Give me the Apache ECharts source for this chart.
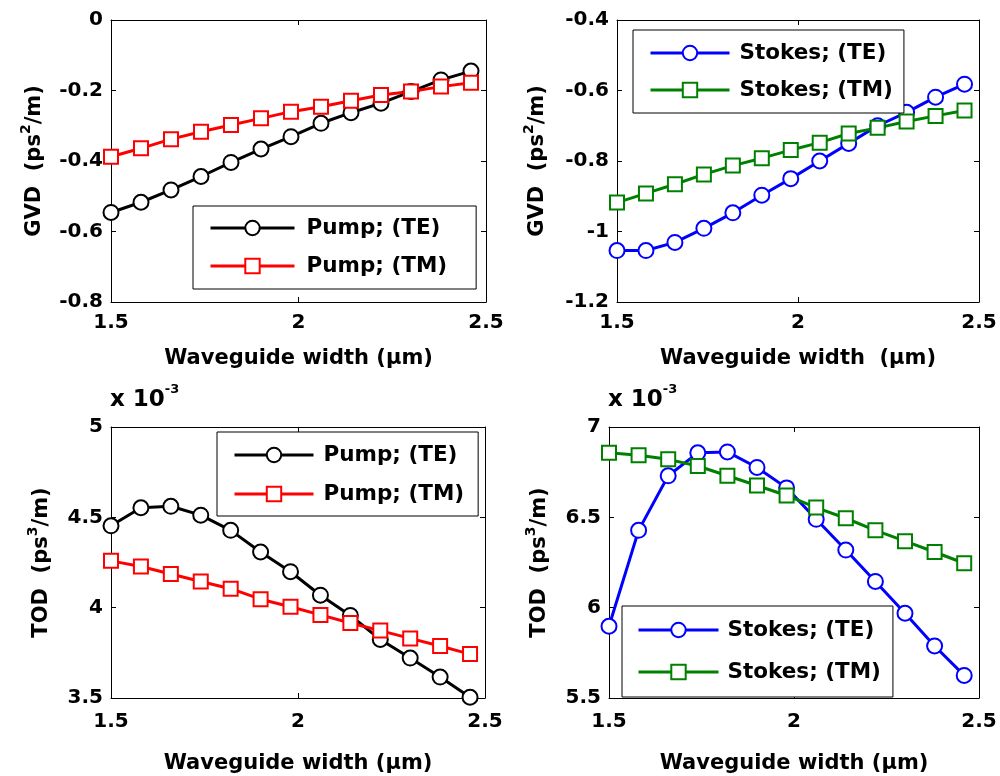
<!DOCTYPE html>
<html>
<head>
<meta charset="utf-8">
<script src="https://cdn.jsdelivr.net/npm/echarts@6/dist/echarts.min.js"></script>
<style>
  html, body { margin: 0; padding: 0; background: #fff; }
  #chart { width: 1000px; height: 776px; }
</style>
</head>
<body>
<div id="chart"></div>
<script>
// ---------- data ----------
const widths = [1.5, 1.58, 1.66, 1.74, 1.82, 1.90, 1.98, 2.06, 2.14, 2.22, 2.30, 2.38, 2.46];

const gvdPumpTE   = [-0.546, -0.517, -0.482, -0.444, -0.404, -0.366, -0.331, -0.293, -0.263, -0.236, -0.203, -0.170, -0.145];
const gvdPumpTM   = [-0.388, -0.364, -0.338, -0.317, -0.298, -0.279, -0.260, -0.246, -0.229, -0.213, -0.203, -0.189, -0.178];
const gvdStokesTE = [-1.054, -1.054, -1.031, -0.991, -0.947, -0.897, -0.850, -0.800, -0.750, -0.700, -0.662, -0.619, -0.582];
const gvdStokesTM = [-0.918, -0.892, -0.866, -0.838, -0.813, -0.792, -0.769, -0.748, -0.722, -0.706, -0.688, -0.672, -0.657];
// TOD values in units of 1e-3 ps^3/m
const todPumpTE   = [4.453, 4.553, 4.561, 4.512, 4.428, 4.308, 4.199, 4.069, 3.957, 3.824, 3.721, 3.616, 3.504];
const todPumpTM   = [4.259, 4.228, 4.186, 4.145, 4.105, 4.047, 4.005, 3.960, 3.915, 3.873, 3.830, 3.788, 3.743];
const todStokesTE = [5.897, 6.428, 6.730, 6.857, 6.862, 6.776, 6.663, 6.489, 6.319, 6.145, 5.969, 5.788, 5.625];
const todStokesTM = [6.857, 6.844, 6.821, 6.784, 6.730, 6.676, 6.621, 6.554, 6.495, 6.428, 6.368, 6.308, 6.246];

// tick labels
const xTicks          = [1.5, 2, 2.5];
const gvdPumpTicks    = [-0.8, -0.6, -0.4, -0.2, 0];
const gvdStokesTicks  = [-1.2, -1, -0.8, -0.6, -0.4];
const todPumpTicks    = [3.5, 4, 4.5, 5];
const todStokesTicks  = [5.5, 6, 6.5, 7];

const seriesNames = ['Pump; (TE)', 'Pump; (TM)', 'Stokes; (TE)', 'Stokes; (TM)'];
const xTitles = ['Waveguide width (\u03bcm)', 'Waveguide width  (\u03bcm)', 'Waveguide width (\u03bcm)', 'Waveguide width (\u03bcm)'];

// ---------- styling ----------
const FONT = 'DejaVu Sans';
const grids = [
  { left: 111, top: 20,  width: 375, height: 282 },
  { left: 617, top: 20,  width: 362, height: 282 },
  { left: 111, top: 427, width: 374, height: 276 },
  { left: 609, top: 427, width: 370, height: 276 }
];

function pairs(xs, ys) { return xs.map((x, i) => [x, ys[i]]); }
function step(t) { return +(t[1] - t[0]).toFixed(6); }

const supRich = {
  a: { fontFamily: FONT, fontWeight: 'bold', fontSize: 21, color: '#000', lineHeight: 32 },
  s: { fontFamily: FONT, fontWeight: 'bold', fontSize: 14, color: '#000', lineHeight: 14, verticalAlign: 'top' }
};

const xAxes = [], yAxes = [];
const yNames = [
  '{a|GVD  (ps}{s|2}{a|/m)}', '{a|GVD  (ps}{s|2}{a|/m)}',
  '{a|TOD  (ps}{s|3}{a|/m)}', '{a|TOD  (ps}{s|3}{a|/m)}'
];
const yTickSets = [gvdPumpTicks, gvdStokesTicks, todPumpTicks, todStokesTicks];
const yNameGaps = [60, 63, 53, 53];
const xNameGaps = [46, 46, 55, 55];
const xLabelMargins = [11, 11, 14, 14];

const lineCommon = { lineStyle: { color: '#000', width: 1 } };

for (let g = 0; g < 4; g++) {
  const yt = yTickSets[g];
  xAxes.push({
    gridIndex: g, type: 'value', position: 'bottom',
    min: xTicks[0], max: xTicks[xTicks.length - 1], interval: step(xTicks),
    name: xTitles[g], nameLocation: 'middle', nameGap: xNameGaps[g],
    nameTextStyle: { fontFamily: FONT, fontWeight: 'bold', fontSize: 21, color: '#000', lineHeight: 22 },
    axisLine: { show: true, onZero: false, ...lineCommon },
    axisTick: { show: true, inside: true, length: 5, ...lineCommon },
    axisLabel: { show: true, margin: xLabelMargins[g], fontFamily: FONT, fontWeight: 'bold', fontSize: 20, color: '#000' },
    splitLine: { show: false }
  });
  xAxes.push({
    gridIndex: g, type: 'value', position: 'top',
    min: xTicks[0], max: xTicks[xTicks.length - 1], interval: step(xTicks),
    axisLine: { show: true, onZero: false, ...lineCommon },
    axisTick: { show: true, inside: true, length: 5, ...lineCommon },
    axisLabel: { show: false },
    splitLine: { show: false }
  });
  yAxes.push({
    gridIndex: g, type: 'value', position: 'left',
    min: yt[0], max: yt[yt.length - 1], interval: step(yt),
    name: yNames[g], nameLocation: 'middle', nameGap: yNameGaps[g],
    nameTextStyle: { rich: supRich },
    axisLine: { show: true, onZero: false, ...lineCommon },
    axisTick: { show: true, inside: true, length: 5, ...lineCommon },
    axisLabel: { show: true, margin: 8, fontFamily: FONT, fontWeight: 'bold', fontSize: 20, color: '#000' },
    splitLine: { show: false }
  });
  yAxes.push({
    gridIndex: g, type: 'value', position: 'right',
    min: yt[0], max: yt[yt.length - 1], interval: step(yt),
    axisLine: { show: true, onZero: false, ...lineCommon },
    axisTick: { show: true, inside: true, length: 5, ...lineCommon },
    axisLabel: { show: false },
    splitLine: { show: false }
  });
}

function mkSeries(name, g, data, color, symbol, size) {
  return {
    name: name, type: 'line',
    xAxisIndex: 2 * g, yAxisIndex: 2 * g,
    data: pairs(widths, data),
    symbol: symbol, symbolSize: size,
    showAllSymbol: true, clip: false,
    lineStyle: { color: color, width: 3 },
    itemStyle: { color: color, borderColor: color, borderWidth: 3 },
    emphasis: { disabled: true },
    animation: false
  };
}

const series = [
  mkSeries(seriesNames[0], 0, gvdPumpTE, '#000000', 'emptyCircle', 15),
  mkSeries(seriesNames[1], 0, gvdPumpTM, '#ff0000', 'emptyRect', 14),
  mkSeries(seriesNames[2], 1, gvdStokesTE, '#0000ff', 'emptyCircle', 15),
  mkSeries(seriesNames[3], 1, gvdStokesTM, '#008000', 'emptyRect', 14),
  mkSeries(seriesNames[0], 2, todPumpTE, '#000000', 'emptyCircle', 15),
  mkSeries(seriesNames[1], 2, todPumpTM, '#ff0000', 'emptyRect', 14),
  mkSeries(seriesNames[2], 3, todStokesTE, '#0000ff', 'emptyCircle', 15),
  mkSeries(seriesNames[3], 3, todStokesTM, '#008000', 'emptyRect', 14)
];

function mkLegend(names, left, top, padding, itemWidth, itemGap, textPad) {
  return {
    orient: 'vertical', left: left, top: top, data: names,
    padding: padding, itemWidth: itemWidth, itemHeight: 18, itemGap: itemGap,
    borderColor: '#000', borderWidth: 1, backgroundColor: '#fff', borderRadius: 0,
    selectedMode: false,
    lineStyle: { width: 3 },
    itemStyle: { borderWidth: 3 },
    textStyle: { fontFamily: FONT, fontWeight: 'bold', fontSize: 21.5, color: '#000', lineHeight: 22, padding: [0, 0, 0, textPad] }
  };
}

const legends = [
  mkLegend([seriesNames[0], seriesNames[1]], 193, 206, [11, 29, 12, 16], 84, 16, 7),
  mkLegend([seriesNames[2], seriesNames[3]], 633, 30, [12, 11, 12, 16], 79, 15, 5),
  mkLegend([seriesNames[0], seriesNames[1]], 217, 432, [12, 14, 11, 16], 79, 17, 5),
  mkLegend([seriesNames[2], seriesNames[3]], 622, 606, [13, 12, 14, 15], 80, 20, 4)
];

const expRich = {
  a: { fontFamily: FONT, fontWeight: 'bold', fontSize: 23, color: '#000', lineHeight: 34 },
  s: { fontFamily: FONT, fontWeight: 'bold', fontSize: 13, color: '#000', lineHeight: 13, verticalAlign: 'top' }
};
const titles = [
  { text: '{a|x 10}{s|-3}', left: 110, top: 383, padding: 0, textStyle: { rich: expRich } },
  { text: '{a|x 10}{s|-3}', left: 608, top: 383, padding: 0, textStyle: { rich: expRich } }
];

const chart = echarts.init(document.getElementById('chart'), null, { renderer: 'canvas' });
chart.setOption({
  backgroundColor: '#ffffff',
  animation: false,
  title: titles,
  grid: grids,
  xAxis: xAxes,
  yAxis: yAxes,
  legend: legends,
  series: series
});
</script>
</body>
</html>
